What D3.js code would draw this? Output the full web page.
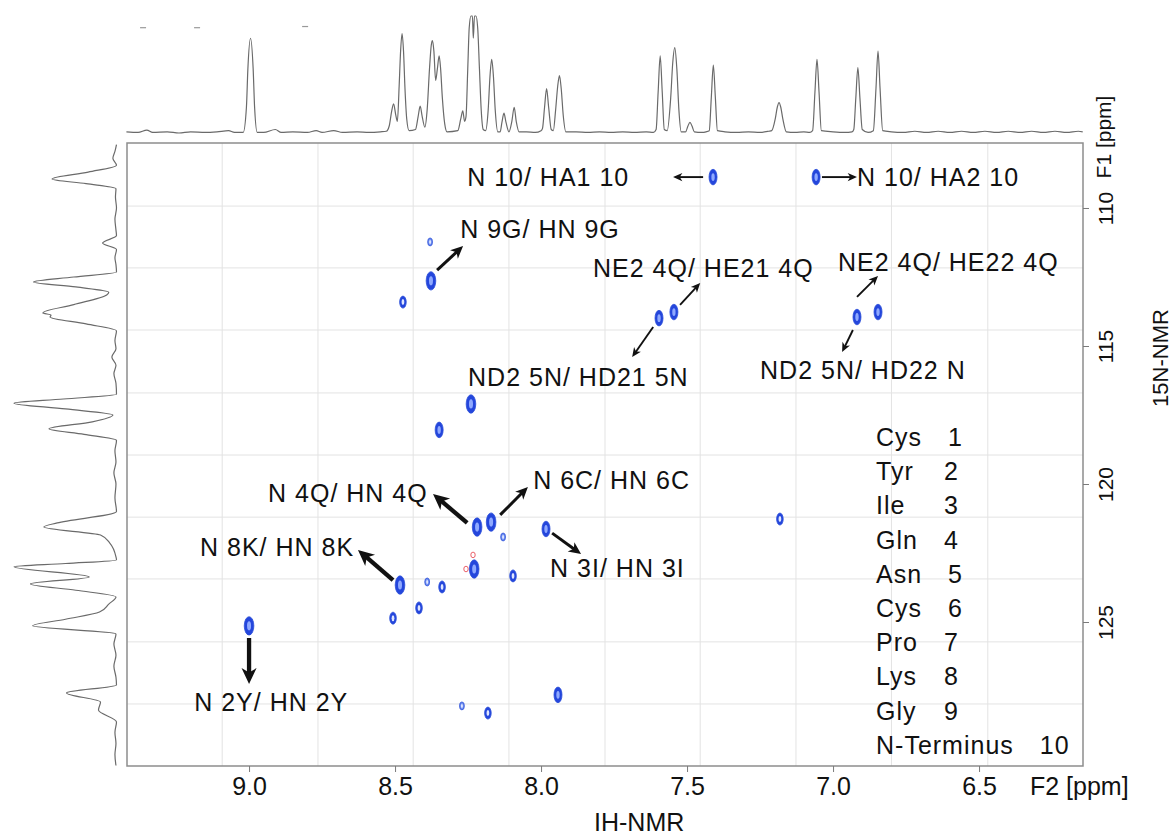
<!DOCTYPE html>
<html>
<head>
<meta charset="utf-8">
<script src="https://cdn.jsdelivr.net/npm/d3@7"></script>
<style>
  body { margin: 0; background: #fff; }
  svg { font-family: "Liberation Sans", Arial, Helvetica, sans-serif; }
</style>
</head>
<body>
<script>
// ---------- data ----------

// 1H projection on top: [ppm, intensity 0..100 (100 = clipped)]
var topTrace = [
  [9.42,1],[9.38,0.5],[9.35,2.5],[9.33,0.5],[9.28,1],[9.24,0],[9.2,1],[9.15,0.5],[9.11,1],[9.07,2],[9.05,0.5],
  [9.02,0.5],[9.009,22],[9.004,55],[8.995,81],[8.986,55],[8.981,22],[8.972,0.5],
  [8.95,0.5],[8.91,3],[8.89,0.5],[8.85,1],[8.8,0.5],[8.77,2],[8.75,0.5],[8.71,2],[8.68,0.5],[8.63,1],[8.59,0.5],[8.55,1],[8.53,1.5],
  [8.52,6],[8.512,18],[8.505,25],[8.498,16],[8.492,10],[8.486,40],[8.481,70],[8.476,85],[8.471,70],[8.466,38],[8.46,12],[8.452,2],
  [8.43,3],[8.421,14],[8.414,23],[8.407,14],[8.398,5],
  [8.39,20],[8.382,55],[8.376,75],[8.372,79],[8.367,70],[8.361,45],[8.355,55],[8.349,66],[8.344,55],[8.338,30],[8.33,8],[8.322,1],
  [8.285,2],[8.275,12],[8.268,19],[8.262,10],[8.257,14],[8.251,55],[8.246,90],[8.24,100],[8.235,100],[8.232,81],[8.228,100],[8.223,100],[8.217,90],[8.211,55],[8.205,20],[8.198,3],
  [8.19,2],[8.181,20],[8.175,48],[8.169,63],[8.163,48],[8.157,20],[8.148,1],
  [8.14,1],[8.134,9],[8.127,17],[8.12,9],[8.11,1],[8.1,10],[8.092,22],[8.085,10],[8.075,1],
  [8.05,1],[8.02,0.5],[8.0,2],
  [7.995,4],[7.988,22],[7.981,38],[7.974,22],[7.965,3],[7.958,2],[7.95,20],[7.943,40],[7.937,49],[7.931,38],[7.924,15],[7.915,1],
  [7.88,1],[7.84,0.5],[7.8,1],[7.76,0.5],[7.72,1],[7.68,0.5],[7.64,1],[7.615,0.5],
  [7.606,3],[7.599,35],[7.592,66],[7.585,35],[7.578,3],[7.568,2],[7.556,30],[7.549,60],[7.542,73],[7.535,55],[7.528,20],[7.52,1],
  [7.505,1],[7.497,6],[7.49,9],[7.483,6],[7.475,1],
  [7.45,0.5],[7.435,1],
  [7.424,2],[7.417,30],[7.41,58],[7.403,30],[7.396,2],
  [7.37,1],[7.33,0.5],[7.29,1],[7.25,0.5],[7.22,1.5],
  [7.21,2],[7.198,12],[7.191,22],[7.185,26],[7.179,22],[7.172,12],[7.16,1],
  [7.13,0.5],[7.1,1],[7.08,0.5],
  [7.07,2],[7.062,35],[7.055,63],[7.048,35],[7.04,2],
  [7.0,1],[6.96,0.5],[6.935,1],
  [6.929,3],[6.922,30],[6.915,56],[6.908,30],[6.9,3],[6.88,0.5],[6.862,2],[6.853,38],[6.846,70],[6.839,38],[6.83,2],
  [6.8,1],[6.76,0.5],[6.72,1.5],[6.68,0.5],[6.64,1.5],[6.6,0.5],[6.56,1.5],[6.52,0.5],[6.48,1.5],[6.44,0.5],
  [6.4,1.5],[6.36,0.5],[6.32,1.5],[6.28,0.5],[6.24,1.5],[6.2,0.5],[6.16,1.5],[6.145,1]
];

// 15N projection on the left: [ppm, intensity 0..100]
var leftTrace = [
  [107.7,0.5],[107.95,2],[108.2,4],[108.45,0.5],[108.7,28],[108.95,63],[109.12,30],[109.3,1],
  [109.6,1.5],[110.0,0.5],[110.4,2],[110.8,1],[111.0,0.5],[111.27,14],[111.5,0.5],[111.8,2],[112.05,1],
  [112.32,0.5],[112.5,42],[112.68,81],[112.86,40],[113.05,8],[113.15,10],[113.5,42],[113.8,72],[113.88,64],[113.95,65],
  [114.2,30],[114.45,0.5],[114.8,2],[115.1,1],[115.4,5],[115.7,1],[116.0,3],[116.35,1],
  [116.75,0.5],[116.92,52],[117.07,100],[117.28,50],[117.5,4],[117.75,24],[118.0,66],[118.2,32],[118.42,0.5],
  [118.8,2],[119.2,1],[119.6,3],[120.0,1],[120.5,2],
  [121.0,0.5],[121.41,58],[121.56,71],[121.85,16],[122.14,7],[122.64,1],
  [122.75,0.5],[122.88,50],[123.0,100],[123.37,27],[123.62,84],[123.85,40],[124.09,1],[124.35,8],[124.64,17],
  [124.9,50],[125.14,82],[125.43,1],
  [125.8,3],[126.2,1],[126.6,3],[127.0,1],
  [127.28,0.5],[127.57,49],[127.9,16],[128.19,18],[128.62,0.5],
  [129.0,2],[129.4,1],[129.8,2],[130.2,1]
];

// cross peaks: 1H ppm, 15N ppm, contour level (1 weakest .. 4 strongest)
var peakH = [7.411, 7.058, 8.380, 8.377, 8.473, 7.596, 7.545, 6.918, 6.846, 8.240, 8.349, 8.219, 8.171, 8.130,
             7.983, 7.182, 8.229, 8.096, 8.483, 8.390, 8.339, 8.418, 8.507, 9.000, 7.942, 8.271, 8.182];
var peakN = [108.88, 108.88, 111.23, 112.64, 113.41, 113.99, 113.77, 113.95, 113.77, 117.10, 118.04, 121.56, 121.38, 121.92,
             121.63, 121.27, 123.08, 123.33, 123.66, 123.55, 123.73, 124.49, 124.86, 125.14, 127.64, 128.04, 128.30];
var peakLevel = [3, 3, 1, 4, 2, 3, 3, 3, 3, 4, 3, 4, 4, 1, 3, 2, 4, 2, 4, 1, 2, 2, 2, 4, 3, 1, 2];

// small negative (red) contours
var negH = [8.233, 8.257];
var negN = [122.57, 123.08];

// axis ticks
var hMajor = [9.0, 8.5, 8.0, 7.5, 7.0, 6.5];
var hMinor = d3.range(94, 61, -1).map(function (d) { return d / 10; });
var nMajor = [110, 115, 120, 125];
var nMinor = d3.range(108, 131, 1);

// grid of the underlying plot (not aligned to the ticks)
var gridH = [9.092, 8.764, 8.438, 8.11, 7.781, 7.455, 7.127, 6.80, 6.47];
var gridN = [109.93, 112.17, 114.42, 116.70, 118.95, 121.2, 123.44, 125.72, 127.97];

// assignments
var labelText = ["N 10/ HA1 10", "N 10/ HA2 10", "N 9G/ HN 9G", "NE2 4Q/ HE21 4Q", "ND2 5N/ HD21 5N",
                 "NE2 4Q/ HE22 4Q", "ND2 5N/ HD22 N", "N 4Q/ HN 4Q", "N 6C/ HN 6C", "N 3I/ HN 3I",
                 "N 8K/ HN 8K", "N 2Y/ HN 2Y"];
var labelH = [8.253, 6.918, 8.277, 7.822, 8.250, 6.983, 7.250, 8.935, 8.027, 7.969, 9.168, 9.188];
var labelN = [108.88, 108.88, 110.76, 112.17, 116.12, 111.96, 115.87, 120.33, 119.86, 123.04, 122.28, 127.90];

var arrowFrom = [[7.445,108.88],[7.038,108.88],[8.356,112.25],[7.524,113.51],[7.616,114.31],[6.918,113.22],
                 [6.932,114.42],[8.253,121.41],[8.140,121.12],[7.962,121.78],[8.507,123.48],[9.0,125.58]];
var arrowTo   = [[7.548,108.88],[6.918,108.88],[8.267,111.38],[7.455,112.72],[7.688,115.40],[6.846,112.46],
                 [6.969,115.22],[8.370,120.36],[8.045,120.11],[7.863,122.54],[8.627,122.39],[9.0,127.25]];
var arrowWeight = [1, 1, 2, 1, 1, 1, 1, 3, 2, 2, 3, 3];

// residue legend
var residueName = ["Cys", "Tyr", "Ile", "Gln", "Asn", "Cys", "Pro", "Lys", "Gly", "N-Terminus"];
var residueNo = ["1", "2", "3", "4", "5", "6", "7", "8", "9", "10"];

// stray marks above the 1H trace
var strayH = [9.363, 9.178, 8.808];
var strayI = [90, 90, 91];

// ---------- drawing ----------
var W = 1174, H = 839;
var svg = d3.select("body").append("svg").attr("width", W).attr("height", H);

var x = d3.scaleLinear().domain([9.418, 6.144]).range([127, 1083]);
var y = d3.scaleLinear().domain([107.645, 130.217]).range([143, 766]);
var yTop = d3.scaleLinear().domain([0, 100]).range([133, 16]);
var xLeft = d3.scaleLinear().domain([0, 100]).range([117, 14]);

var levelRx = d3.scaleOrdinal().domain([1, 2, 3, 4]).range([2.4, 3.3, 4.0, 4.8]);
var levelRy = d3.scaleOrdinal().domain([1, 2, 3, 4]).range([4.0, 6.0, 7.8, 9.2]);
var weightWidth = d3.scaleOrdinal().domain([1, 2, 3]).range([1.9, 3, 4.3]);

// grid
var grid = svg.append("g");
grid.selectAll(".gv").data(gridH).enter().append("line")
  .attr("x1", function (d) { return x(d); }).attr("x2", function (d) { return x(d); })
  .attr("y1", y.range()[0]).attr("y2", y.range()[1])
  .attr("stroke", "#e3e3e3").attr("stroke-width", 1);
grid.selectAll(".gh").data(gridN).enter().append("line")
  .attr("y1", function (d) { return y(d); }).attr("y2", function (d) { return y(d); })
  .attr("x1", x.range()[0]).attr("x2", x.range()[1])
  .attr("stroke", "#e3e3e3").attr("stroke-width", 1);

// frame
svg.append("rect")
  .attr("x", x.range()[0]).attr("y", y.range()[0])
  .attr("width", x.range()[1] - x.range()[0]).attr("height", y.range()[1] - y.range()[0])
  .attr("fill", "none").attr("stroke", "#8d8d8d").attr("stroke-width", 1.5);

// projections
svg.append("path").datum(topTrace)
  .attr("fill", "none").attr("stroke", "#6a6a6a").attr("stroke-width", 1.2)
  .attr("d", d3.line().x(function (d) { return x(d[0]); }).y(function (d) { return yTop(d[1]); }).curve(d3.curveMonotoneX));

svg.append("path").datum(leftTrace)
  .attr("fill", "none").attr("stroke", "#6a6a6a").attr("stroke-width", 1.2)
  .attr("d", d3.line().x(function (d) { return xLeft(d[1]); }).y(function (d) { return y(d[0]); }).curve(d3.curveMonotoneY));

svg.selectAll(".stray").data(strayH).enter().append("line")
  .attr("x1", function (d) { return x(d) - 3; }).attr("x2", function (d) { return x(d) + 3; })
  .attr("y1", function (d, i) { return yTop(strayI[i]); }).attr("y2", function (d, i) { return yTop(strayI[i]); })
  .attr("stroke", "#999").attr("stroke-width", 1.2);

// axes
var axisX = svg.append("g").attr("transform", "translate(0," + y.range()[1] + ")");
axisX.call(d3.axisBottom(x).tickValues(hMinor).tickSize(3).tickFormat(""));
axisX.call(d3.axisBottom(x).tickValues(hMajor).tickSize(6).tickPadding(5).tickFormat(d3.format(".1f")));
axisX.selectAll(".domain").remove();
axisX.selectAll("line").attr("stroke", "#7a7a7a");
axisX.selectAll("text").attr("font-size", 25).attr("fill", "#111")
  .attr("font-family", "Liberation Sans, Arial, sans-serif");

var axisY = svg.append("g").attr("transform", "translate(" + x.range()[1] + ",0)");
axisY.call(d3.axisRight(y).tickValues(nMinor).tickSize(3).tickFormat(""));
axisY.call(d3.axisRight(y).tickValues(nMajor).tickSize(6).tickFormat(d3.format("d")));
axisY.selectAll(".domain").remove();
axisY.selectAll("line").attr("stroke", "#7a7a7a");
axisY.selectAll("text")
  .attr("x", null).attr("dy", null)
  .attr("transform", "translate(30,0) rotate(-90)")
  .attr("text-anchor", "middle")
  .attr("font-size", 21).attr("fill", "#111")
  .attr("font-family", "Liberation Sans, Arial, sans-serif");

svg.append("text").attr("x", 1030).attr("y", 795).attr("font-size", 25).attr("fill", "#111").text("F2 [ppm]");
svg.append("text").attr("x", 594).attr("y", 831).attr("font-size", 25).attr("fill", "#111").text("IH-NMR");
svg.append("text").attr("transform", "translate(1111,137) rotate(-90)").attr("text-anchor", "middle")
  .attr("font-size", 21).attr("fill", "#111").text("F1 [ppm]");
svg.append("text").attr("transform", "translate(1168,358) rotate(-90)").attr("text-anchor", "middle")
  .attr("font-size", 22).attr("fill", "#111").text("15N-NMR");

// cross peaks
var peaks = svg.append("g");
peakH.forEach(function (h, i) {
  var lv = peakLevel[i], cx = x(h), cy = y(peakN[i]);
  peaks.append("ellipse").attr("cx", cx).attr("cy", cy)
    .attr("rx", levelRx(lv)).attr("ry", levelRy(lv))
    .attr("fill", lv > 1 ? "#2446dc" : "#6f8ff0")
    .attr("stroke", "#2c4fd8").attr("stroke-width", 0.8);
  peaks.append("ellipse").attr("cx", cx).attr("cy", cy)
    .attr("rx", levelRx(lv) * 0.42).attr("ry", levelRy(lv) * 0.5)
    .attr("fill", lv > 2 ? "#8fa9ff" : "#dfe6ff");
});
negH.forEach(function (h, i) {
  peaks.append("ellipse").attr("cx", x(h)).attr("cy", y(negN[i]))
    .attr("rx", 2.2).attr("ry", 2.8)
    .attr("fill", "none").attr("stroke", "#e8505a").attr("stroke-width", 0.9);
});

// arrows
var arrows = svg.append("g");
arrowFrom.forEach(function (p, i) {
  var x1 = x(p[0]), y1 = y(p[1]), x2 = x(arrowTo[i][0]), y2 = y(arrowTo[i][1]);
  var sw = weightWidth(arrowWeight[i]);
  var dx = x2 - x1, dy = y2 - y1, len = Math.sqrt(dx * dx + dy * dy);
  var ux = dx / len, uy = dy / len, nx = -uy, ny = ux;
  var L = 4 + 2.8 * sw, Wd = 3 + 2.8 * sw;
  arrows.append("line")
    .attr("x1", x1).attr("y1", y1)
    .attr("x2", x2 - ux * L * 0.6).attr("y2", y2 - uy * L * 0.6)
    .attr("stroke", "#111").attr("stroke-width", sw);
  var pts = [
    [x2, y2],
    [x2 - ux * L + nx * Wd / 2, y2 - uy * L + ny * Wd / 2],
    [x2 - ux * L * 0.72, y2 - uy * L * 0.72],
    [x2 - ux * L - nx * Wd / 2, y2 - uy * L - ny * Wd / 2]
  ];
  arrows.append("path").attr("d", "M" + pts.map(function (q) { return q.join(","); }).join("L") + "Z")
    .attr("fill", "#111");
});

// labels
svg.selectAll(".lab").data(labelText).enter().append("text")
  .attr("x", function (d, i) { return x(labelH[i]); })
  .attr("y", function (d, i) { return y(labelN[i]); })
  .attr("dy", "0.35em")
  .attr("font-size", 25).attr("letter-spacing", 1).attr("fill", "#111")
  .text(function (d) { return d; });

// legend
var legend = svg.append("g");
residueName.forEach(function (name, i) {
  var yy = 446 + i * 34.2;
  var t = legend.append("text").attr("x", 876).attr("y", yy)
    .attr("font-size", 25).attr("letter-spacing", 1).attr("fill", "#111").text(name);
  var wName = t.node().getComputedTextLength();
  var nx = Math.max(944, 876 + wName + 26);
  legend.append("text").attr("x", nx).attr("y", yy)
    .attr("font-size", 25).attr("letter-spacing", 1).attr("fill", "#111").text(residueNo[i]);
});
</script>
</body>
</html>
